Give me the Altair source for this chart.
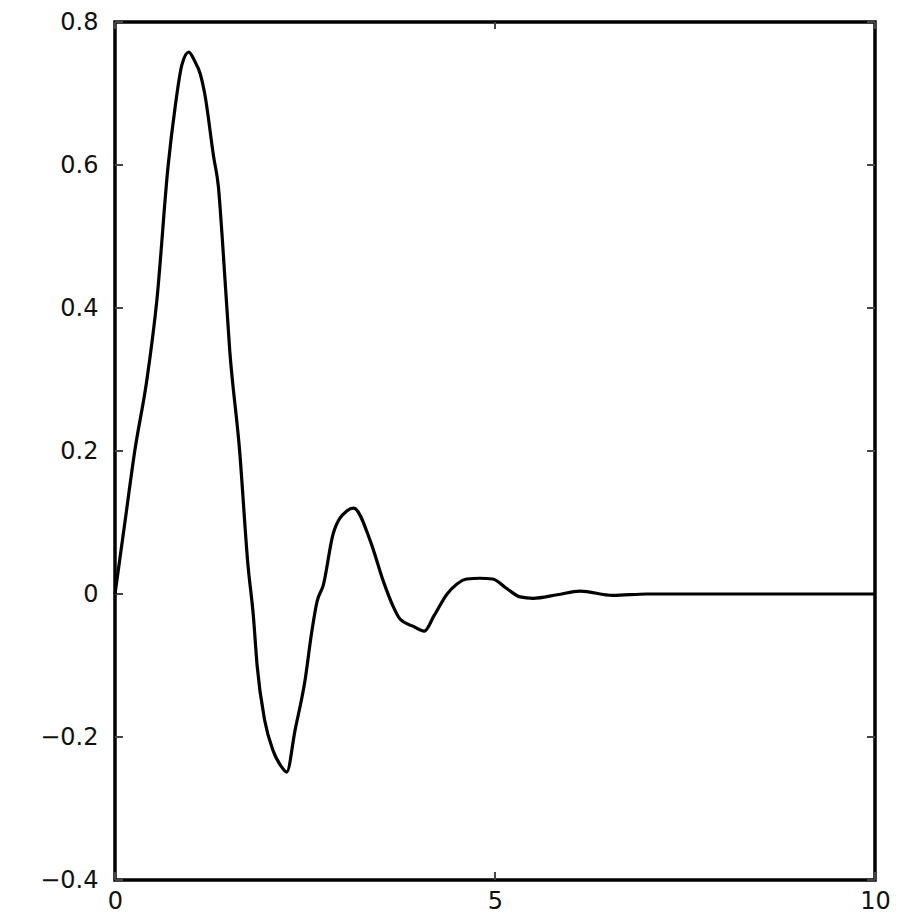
import altair as alt
import pandas as pd

x_vals = [0.0, 0.13, 0.26, 0.42, 0.55, 0.70, 0.79, 0.88, 0.97, 1.05, 1.12, 1.18,
          1.30, 1.36, 1.41, 1.51, 1.64, 1.75, 1.82, 1.87, 1.97, 2.08, 2.18, 2.26,
          2.37, 2.50, 2.59, 2.66, 2.74, 2.87, 3.05, 3.14, 3.36, 3.53, 3.65, 3.75,
          3.92, 4.07, 4.20, 4.37, 4.50, 4.63, 4.80, 4.97, 5.15, 5.33, 5.50, 5.82,
          6.12, 6.55, 7.0, 10.0]
y_vals = [0.0, 0.10, 0.20, 0.30, 0.41, 0.60, 0.68, 0.74, 0.758, 0.745, 0.728, 0.70,
          0.61, 0.57, 0.50, 0.34, 0.20, 0.04, -0.03, -0.10, -0.177, -0.219, -0.24, -0.249,
          -0.19, -0.121, -0.052, -0.01, 0.012, 0.084, 0.116, 0.12, 0.074, 0.018, -0.015, -0.035,
          -0.045, -0.052, -0.03, 0.0, 0.014, 0.021, 0.022, 0.021, 0.008, -0.004, -0.006, -0.001,
          0.004, -0.002, 0.0, 0.0]

y_ticks = [-0.4, -0.2, 0.0, 0.2, 0.4, 0.6, 0.8]
x_ticks = [0, 5, 10]

W, H = 760, 858

df = pd.DataFrame({"x": x_vals, "y": y_vals})
ydf = pd.DataFrame({"v": y_ticks})
xdf = pd.DataFrame({"v": x_ticks})

xscale = alt.Scale(domain=[0, 10], nice=False, zero=False)
yscale = alt.Scale(domain=[-0.4, 0.8], nice=False, zero=False)

xaxis = alt.Axis(values=x_ticks, title=None, ticks=False, domain=False, grid=False,
                 labelPadding=9, labelFontSize=24, labelFont="DejaVu Sans",
                 labelColor="#111", labelFlush=False, format="d")
yaxis = alt.Axis(values=y_ticks, title=None, ticks=False, domain=False, grid=False,
                 labelPadding=17, labelFontSize=24, labelFont="DejaVu Sans",
                 labelColor="#111", labelFlush=False,
                 labelExpr="datum.value == 0 ? '0' : format(datum.value, '.1f')")

line = alt.Chart(df).mark_line(color="black", strokeWidth=3.2, interpolate="monotone").encode(
    x=alt.X("x:Q", scale=xscale, axis=xaxis),
    y=alt.Y("y:Q", scale=yscale, axis=yaxis),
)

tick_style = dict(color="#444", strokeWidth=2)

yl = alt.Chart(ydf).mark_rule(**tick_style).encode(
    y=alt.Y("v:Q", scale=yscale), x=alt.value(0), x2=alt.value(8))
yr = alt.Chart(ydf).mark_rule(**tick_style).encode(
    y=alt.Y("v:Q", scale=yscale), x=alt.value(W - 8), x2=alt.value(W))
xb = alt.Chart(xdf).mark_rule(**tick_style).encode(
    x=alt.X("v:Q", scale=xscale), y=alt.value(H - 8), y2=alt.value(H))
xt = alt.Chart(xdf).mark_rule(**tick_style).encode(
    x=alt.X("v:Q", scale=xscale), y=alt.value(0), y2=alt.value(7))

chart = alt.layer(yl, yr, xb, xt, line).properties(
    width=W, height=H,
    background="white",
    autosize=alt.AutoSizeParams(type="none"),
    padding={"left": 107, "top": 14, "right": 22, "bottom": 40},
).configure_view(stroke="black", strokeWidth=3.5)

chart.save("out.html", embed_options={"renderer": "svg", "actions": False})
